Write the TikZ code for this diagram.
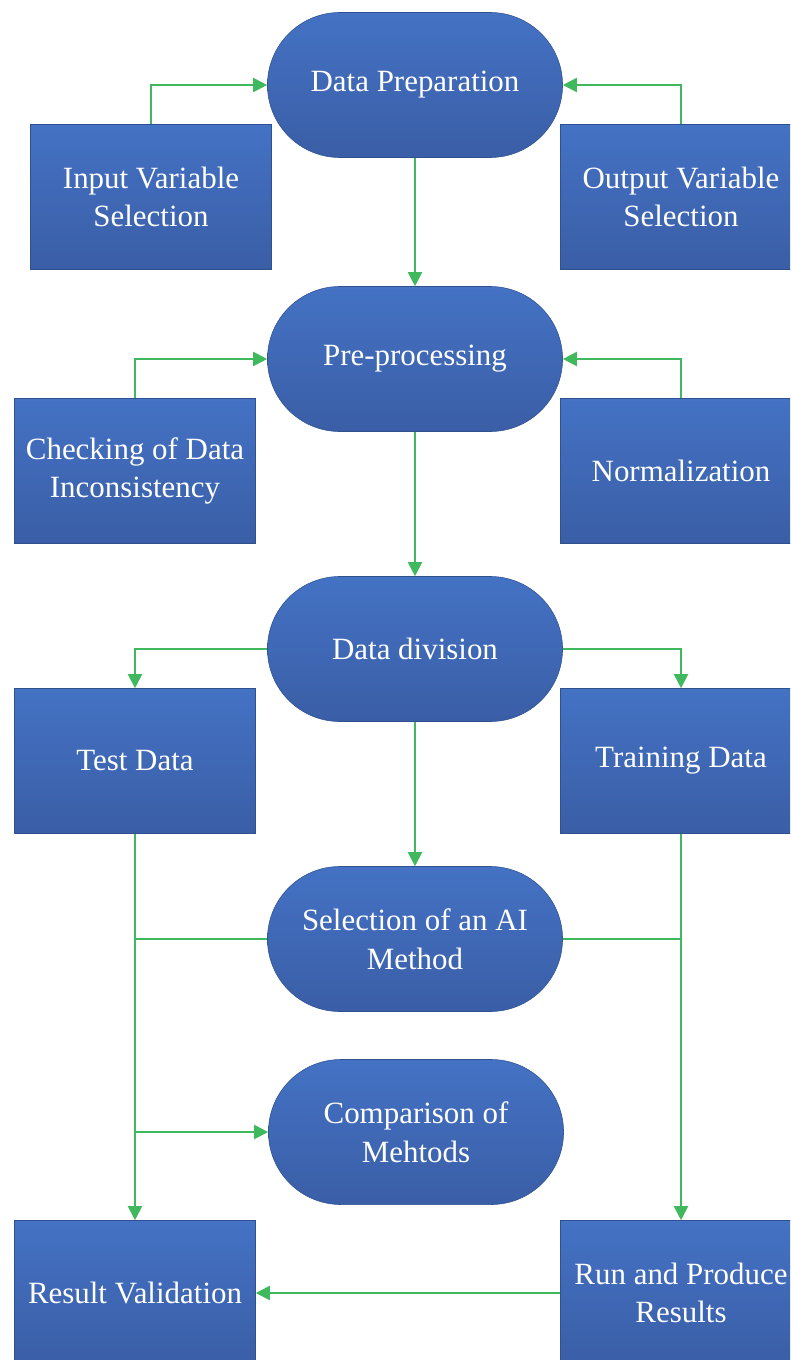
\documentclass[tikz,border=0pt]{standalone}
\usepackage{fontspec}
\setmainfont{Liberation Serif}
\usetikzlibrary{arrows.meta,shapes.misc}
\definecolor{boxtop}{RGB}{68,114,196}
\definecolor{boxbot}{RGB}{58,94,166}
\definecolor{boxline}{RGB}{47,82,143}
\definecolor{flowgreen}{RGB}{64,185,94}
\tikzstyle{stage}=[rounded rectangle,draw=boxline,thin,top color=boxtop,bottom color=boxbot,
  minimum width=7.375cm,minimum height=3.625cm,inner sep=0pt,text=white,align=center,
  font=\fontsize{22}{27.5}\selectfont]
\tikzstyle{stepbox}=[rectangle,draw=boxline,thin,top color=boxtop,bottom color=boxbot,
  minimum width=6.025cm,minimum height=3.625cm,inner sep=0pt,text=white,align=center,
  font=\fontsize{22}{27.5}\selectfont]
\tikzstyle{flow} = [draw,line width=1.4pt,flowgreen,-{Triangle[length=10pt,width=10pt]}]
\tikzstyle{link} = [draw,line width=1.4pt,flowgreen]
\begin{document}
\begin{tikzpicture}[x=0.025cm,y=-0.025cm]
    \useasboundingbox (0,0) rectangle (790,1360);
    \clip (0,0) rectangle (790,1360);
    % main stages down the middle
    \node[stage] (prep) at (415,85) {Data Preparation};
    \node[stage] (pre) at (415,359) {Pre-processing};
    \node[stage] (div) at (415,649) {Data division};
    \node[stage] (sel) at (415,939) {Selection of an AI\\Method};
    \node[stage] (comp) at (416,1132) {Comparison of\\Mehtods};
    % side boxes
    \node[stepbox] (inp) at (151,197) {Input Variable\\Selection};
    \node[stepbox] (outp) at (681,197) {Output Variable\\Selection};
    \node[stepbox] (check) at (135,471) {Checking of Data\\Inconsistency};
    \node[stepbox] (norm) at (681,471) {Normalization};
    \node[stepbox] (test) at (135,761) {Test Data};
    \node[stepbox] (train) at (681,761) {Training Data};
    \node[stepbox] (valid) at (135,1293) {Result Validation};
    \node[stepbox] (run) at (681,1293) {Run and Produce\\Results};
    \coordinate (split) at (comp.west -| test.south);
    % connectors
    \path[flow] (inp.north) |- (prep.west);
    \path[flow] (outp.north) |- (prep.east);
    \path[flow] (prep.south) -- (pre.north);
    \path[flow] (check.north) |- (pre.west);
    \path[flow] (norm.north) |- (pre.east);
    \path[flow] (pre.south) -- (div.north);
    \path[flow] (div.west) -| (test.north);
    \path[flow] (div.east) -| (train.north);
    \path[flow] (div.south) -- (sel.north);
    \path[flow] (test.south) -- (valid.north);
    \path[flow] (train.south) -- (run.north);
    \path[link] (sel.west) -- (sel.west -| test.south);
    \path[link] (sel.east) -- (sel.east -| train.south);
    \path[flow] (split) -- (comp.west);
    \path[flow] (run.west) -- (valid.east);
\end{tikzpicture}
\end{document}
